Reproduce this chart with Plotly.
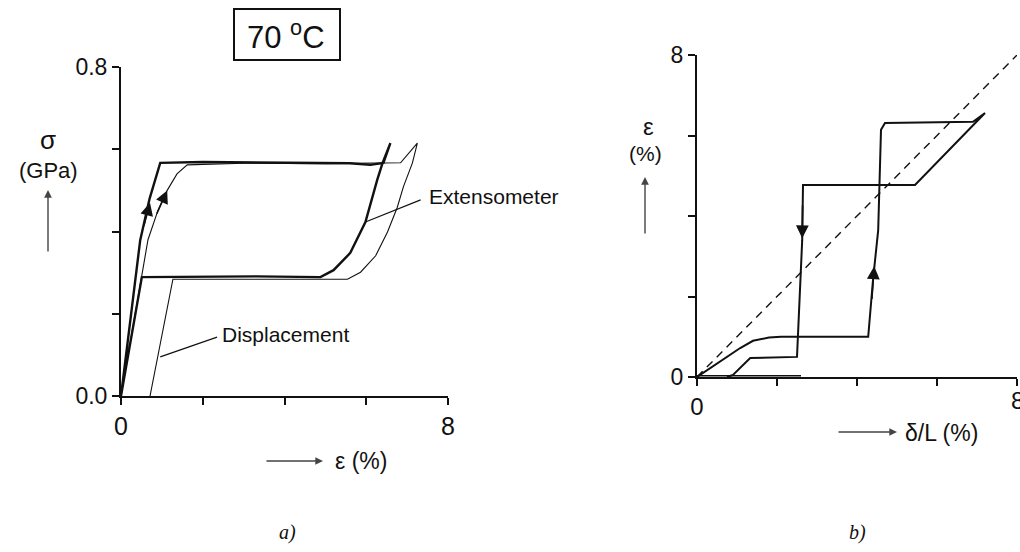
import plotly.graph_objects as go

W, H = 1020, 552

# ---- panel a): stress vs strain at 70 °C ----
# extensometer strain (%) and stress (GPa), loading then unloading
ext_strain = [0.0, 0.25, 0.47, 0.70, 0.96, 2.0, 4.0, 5.6, 6.1, 6.42, 6.59,
              6.40, 6.27, 5.98, 5.61, 5.20, 4.88, 3.3, 0.51, 0.0]
ext_stress = [0.0, 0.20, 0.379, 0.48, 0.567, 0.569, 0.567, 0.566, 0.562, 0.567, 0.615,
              0.567, 0.526, 0.423, 0.348, 0.306, 0.289, 0.291, 0.289, 0.0]

# strain from crosshead displacement
disp_strain = [0.0, 0.35, 0.66, 0.90, 1.13, 1.37, 1.62, 3.0, 5.0, 6.84, 7.25,
               7.13, 6.91, 6.76, 6.52, 6.23, 5.86, 5.54, 1.27, 0.71]
disp_stress = [0.0, 0.20, 0.38, 0.45, 0.50, 0.54, 0.562, 0.566, 0.565, 0.567, 0.615,
               0.567, 0.509, 0.459, 0.399, 0.341, 0.301, 0.284, 0.284, 0.0]

# ---- panel b): extensometer strain vs displacement strain ----
dl_path = [0.0, 0.5, 1.08, 1.4, 1.8, 2.1, 4.28, 4.40, 4.53, 4.60, 4.70, 6.9, 7.2,
           5.45, 2.65, 2.63, 2.50, 1.33, 1.1, 0.90, 0.75]
eps_path = [0.0, 0.33, 0.72, 0.90, 0.98, 1.0, 1.0, 2.41, 3.65, 6.14, 6.31, 6.34, 6.56,
            4.77, 4.77, 3.40, 0.50, 0.47, 0.25, 0.05, 0.0]
base_dl = [0.0, 2.6]
base_eps = [0.03, 0.03]
diag = [0.0, 8.0]

x_ticks = [0, 2, 4, 6, 8]
x_ticktext = ["0", "", "", "", "8"]
x2_ticktext = ["0", "", "", "", ""]
s_ticks = [0.0, 0.2, 0.4, 0.6, 0.8]
s_ticktext = ["0.0", "", "", "", "0.8"]
e_ticks = [0, 2, 4, 6, 8]
e_ticktext = ["0", "", "", "", "8"]

INK = "#111111"
FONT = "Arial"


def px(x):
    return x / W


def py(y):
    return 1 - y / H


fig = go.Figure()

fig.add_trace(go.Scatter(x=disp_strain, y=disp_stress, mode="lines",
                         line=dict(color=INK, width=1.1), xaxis="x", yaxis="y",
                         cliponaxis=False, hoverinfo="skip"))
fig.add_trace(go.Scatter(x=ext_strain, y=ext_stress, mode="lines",
                         line=dict(color=INK, width=2.4), xaxis="x", yaxis="y",
                         cliponaxis=False, hoverinfo="skip"))

fig.add_trace(go.Scatter(x=diag, y=diag, mode="lines",
                         line=dict(color=INK, width=1.4, dash="8px,6px"),
                         xaxis="x2", yaxis="y2", cliponaxis=False, hoverinfo="skip"))
fig.add_trace(go.Scatter(x=dl_path, y=eps_path, mode="lines",
                         line=dict(color=INK, width=2.0), xaxis="x2", yaxis="y2",
                         cliponaxis=False, hoverinfo="skip"))
fig.add_trace(go.Scatter(x=base_dl, y=base_eps, mode="lines",
                         line=dict(color=INK, width=1.6), xaxis="x2", yaxis="y2",
                         cliponaxis=False, hoverinfo="skip"))

axis_common = dict(showline=True, linecolor=INK, linewidth=2, ticks="outside",
                   ticklen=7, tickwidth=2, tickcolor=INK, showgrid=False,
                   zeroline=False, fixedrange=True, automargin=False)

fig.update_layout(
    width=W, height=H,
    margin=dict(l=0, r=0, t=0, b=0, pad=0, autoexpand=False),
    paper_bgcolor="white", plot_bgcolor="white",
    showlegend=False,
    font=dict(family=FONT, color=INK),
    xaxis=dict(domain=[px(121), px(448)], range=[0, 8], anchor="y",
               tickvals=x_ticks, ticktext=x_ticktext,
               tickfont=dict(size=25, family=FONT, color=INK), **axis_common),
    yaxis=dict(domain=[py(396), py(67)], range=[0, 0.8], anchor="x",
               tickvals=s_ticks, ticktext=s_ticktext,
               tickfont=dict(size=23, family=FONT, color=INK), **axis_common),
    xaxis2=dict(domain=[px(697), px(1017)], range=[0, 8], anchor="y2",
                tickvals=x_ticks, ticktext=x2_ticktext,
                tickfont=dict(size=24, family=FONT, color=INK), **axis_common),
    yaxis2=dict(domain=[py(377), py(55)], range=[0, 8], anchor="x2",
                tickvals=e_ticks, ticktext=e_ticktext,
                tickfont=dict(size=23, family=FONT, color=INK), **axis_common),
)

ann = []


def text(xp, yp, s, size, xanchor="center", bold=False, family=FONT, italic=False):
    if bold:
        s = "<b>" + s + "</b>"
    if italic:
        s = "<i>" + s + "</i>"
    ann.append(dict(x=px(xp), y=py(yp), xref="paper", yref="paper", text=s,
                    showarrow=False, xanchor=xanchor, yanchor="middle",
                    font=dict(size=size, family=family, color=INK)))


def arrow(xt, yt, dx, dy, color="#444444", width=1.4):
    # arrow whose head sits at (xt, yt) pixels; tail offset by (dx, dy) pixels
    ann.append(dict(x=px(xt), y=py(yt), xref="paper", yref="paper", text="",
                    showarrow=True, ax=dx, ay=dy, arrowhead=2, arrowsize=1.1,
                    arrowwidth=width, arrowcolor=color))


def data_arrow(xref, yref, x, y, x0, y0):
    ann.append(dict(x=x, y=y, ax=x0, ay=y0, xref=xref, yref=yref,
                    axref=xref, ayref=yref, text="", showarrow=True,
                    arrowhead=2, arrowsize=1.6, arrowwidth=1.6, arrowcolor=INK))


# temperature box
text(286, 35, "70 <sup>o</sup>C", 31)

# panel a) axis labels
text(48, 140, "σ", 26)
text(48, 171, "(GPa)", 22)
arrow(48, 190, 0, 63)
arrow(323, 461, -58, 0)
text(333, 461, "ε (%)", 23, xanchor="left")

# curve labels
text(427, 197, "Extensometer", 21, xanchor="left")
text(220, 334, "Displacement", 21, xanchor="left")

# loading arrows, panel a)
data_arrow("x", "y", 0.71, 0.47, 0.55, 0.41)
data_arrow("x", "y", 1.13, 0.50, 0.86, 0.44)

# panel b) axis labels
text(648, 126, "ε", 24)
text(645, 153, "(%)", 21)
arrow(645, 177, 0, 58)
arrow(897, 432, -60, 0)
text(903, 433, "δ/L (%)", 23, xanchor="left")
# last x tick label of panel b), running off the right edge
ann.append(dict(x=8, y=0, xref="x2", yref="y2", text="8", showarrow=False,
                xanchor="center", yanchor="top", yshift=-8,
                font=dict(size=24, family=FONT, color=INK)))

# direction arrows, panel b)
data_arrow("x2", "y2", 4.43, 2.75, 4.37, 1.9)
data_arrow("x2", "y2", 2.63, 3.45, 2.64, 4.3)

# panel captions
text(287, 532, "a)", 20, family="Liberation Serif", italic=True)
text(857, 532, "b)", 20, family="Liberation Serif", italic=True)

fig.update_layout(annotations=ann)

fig.update_layout(shapes=[
    dict(type="rect", xref="paper", yref="paper", x0=px(234), x1=px(340),
         y0=py(60), y1=py(9), line=dict(color=INK, width=2)),
    dict(type="line", xref="x", yref="y", x0=0.96, y0=0.095, x1=2.35, y1=0.143,
         line=dict(color=INK, width=1.2)),
    dict(type="line", xref="x", yref="y", x0=5.98, y0=0.423, x1=7.33, y1=0.477,
         line=dict(color=INK, width=1.2)),
])

fig.write_html("out.html")
